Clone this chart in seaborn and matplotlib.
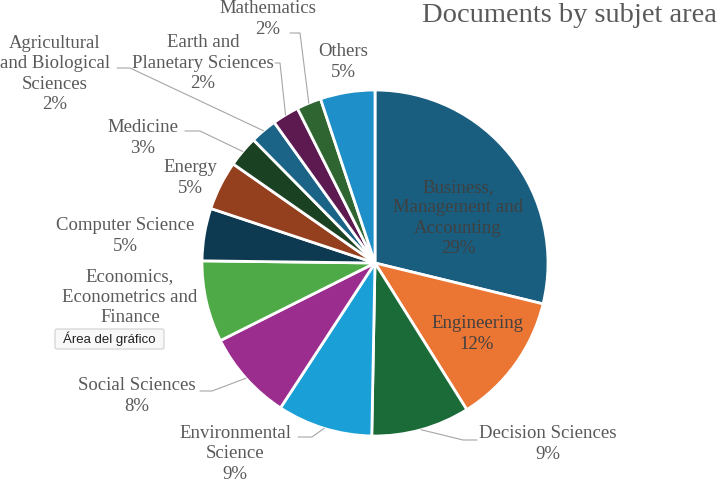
import numpy as np
import seaborn as sns
import matplotlib.pyplot as plt
from matplotlib.patches import FancyBboxPatch

sns.set_theme(style="white")
plt.rcParams['font.family'] = ['Liberation Serif', 'DejaVu Serif']

# data (clockwise from 12 o'clock)
subjects = ["Business,\nManagement and\nAccounting", "Engineering", "Decision Sciences",
            "Environmental\nScience", "Social Sciences", "Economics,\nEconometrics and\nFinance",
            "Computer Science", "Energy", "Medicine", "Agricultural\nand Biological\nSciences",
            "Earth and\nPlanetary Sciences", "Mathematics", "Others"]
shares = [28.8, 12.3, 9.2, 8.9, 8.4, 7.6, 4.9, 4.6, 2.9, 2.5, 2.5, 2.3, 5.1]
# the Economics percentage is hidden behind a tooltip in the original
pct_labels = ["29%", "12%", "9%", "9%", "8%", None, "5%", "5%", "3%", "2%", "2%", "2%", "5%"]
colors = ["#195e7f", "#eb7533", "#1a6b37", "#1a9fd6", "#9b2d8f", "#4eaa47", "#0d3a50",
          "#94401f", "#1a4222", "#1c6388", "#5c1a50", "#2f6531", "#1e8fc8"]

# label layout: text block centre and leader-line points (pixels)
label_pos = [(458, 218, None), (477, 334, None), (548, 444, [(477, 440), (463, 440)]),
             (235, 454, [(298, 437), (312, 437)]), (137, 396, [(200, 391), (212, 391)]),
             (130, 297, None), (125, 236, None), (190, 178, None),
             (143, 138, [(185, 131), (200, 131)]), (55, 74, [(117, 68), (130, 68)]),
             (203, 63, [(275, 63), (280, 63)]), (268, 19, [(290, 33), (300, 33)]),
             (343, 62, None)]

W, H = 723, 483
fig = plt.figure(figsize=(W / 100, H / 100), dpi=100)
ax = fig.add_axes([0, 0, 1, 1])
ax.axis('off')

cx, cy, R = 375, 263, 173
wedges, _ = ax.pie(shares, colors=colors, center=(cx, cy), radius=R,
                   startangle=-90, counterclock=True,
                   wedgeprops=dict(edgecolor='white', linewidth=2.0))
ax.set_xlim(0, W)
ax.set_ylim(H, 0)
ax.set_aspect('equal')

for i, (w, name, pct) in enumerate(zip(wedges, subjects, pct_labels)):
    x, y, pts = label_pos[i]
    color = '#404040' if i < 2 else '#595959'
    txt = name if pct is None else name + "\n" + pct
    ax.text(x, y, txt, ha='center', va='center', fontsize=13.5,
            color=color, linespacing=1.25, zorder=5)
    if pts is not None:
        mid = np.deg2rad((w.theta1 + w.theta2) / 2)
        end = (cx + R * np.cos(mid), cy + R * np.sin(mid))
        xs = [p[0] for p in pts] + [end[0]]
        ys = [p[1] for p in pts] + [end[1]]
        ax.plot(xs, ys, color='#a6a6a6', lw=0.8, zorder=1)

ax.text(569, 16, "Documents by subjet area", ha='center', va='center',
        fontsize=20.5, color='#595959')

# tooltip overlay
box = FancyBboxPatch((55, 329), 109, 20, boxstyle="round,pad=0,rounding_size=2",
                     facecolor='#f8f8f8', edgecolor='#cfcfcf', lw=0.8, zorder=10)
ax.add_patch(box)
ax.text(109.5, 339, "Área del gráfico", ha='center', va='center', fontsize=9.5,
        color='#222222', family=['Liberation Sans', 'DejaVu Sans'], zorder=11)

fig.savefig("out.png", dpi=100)
